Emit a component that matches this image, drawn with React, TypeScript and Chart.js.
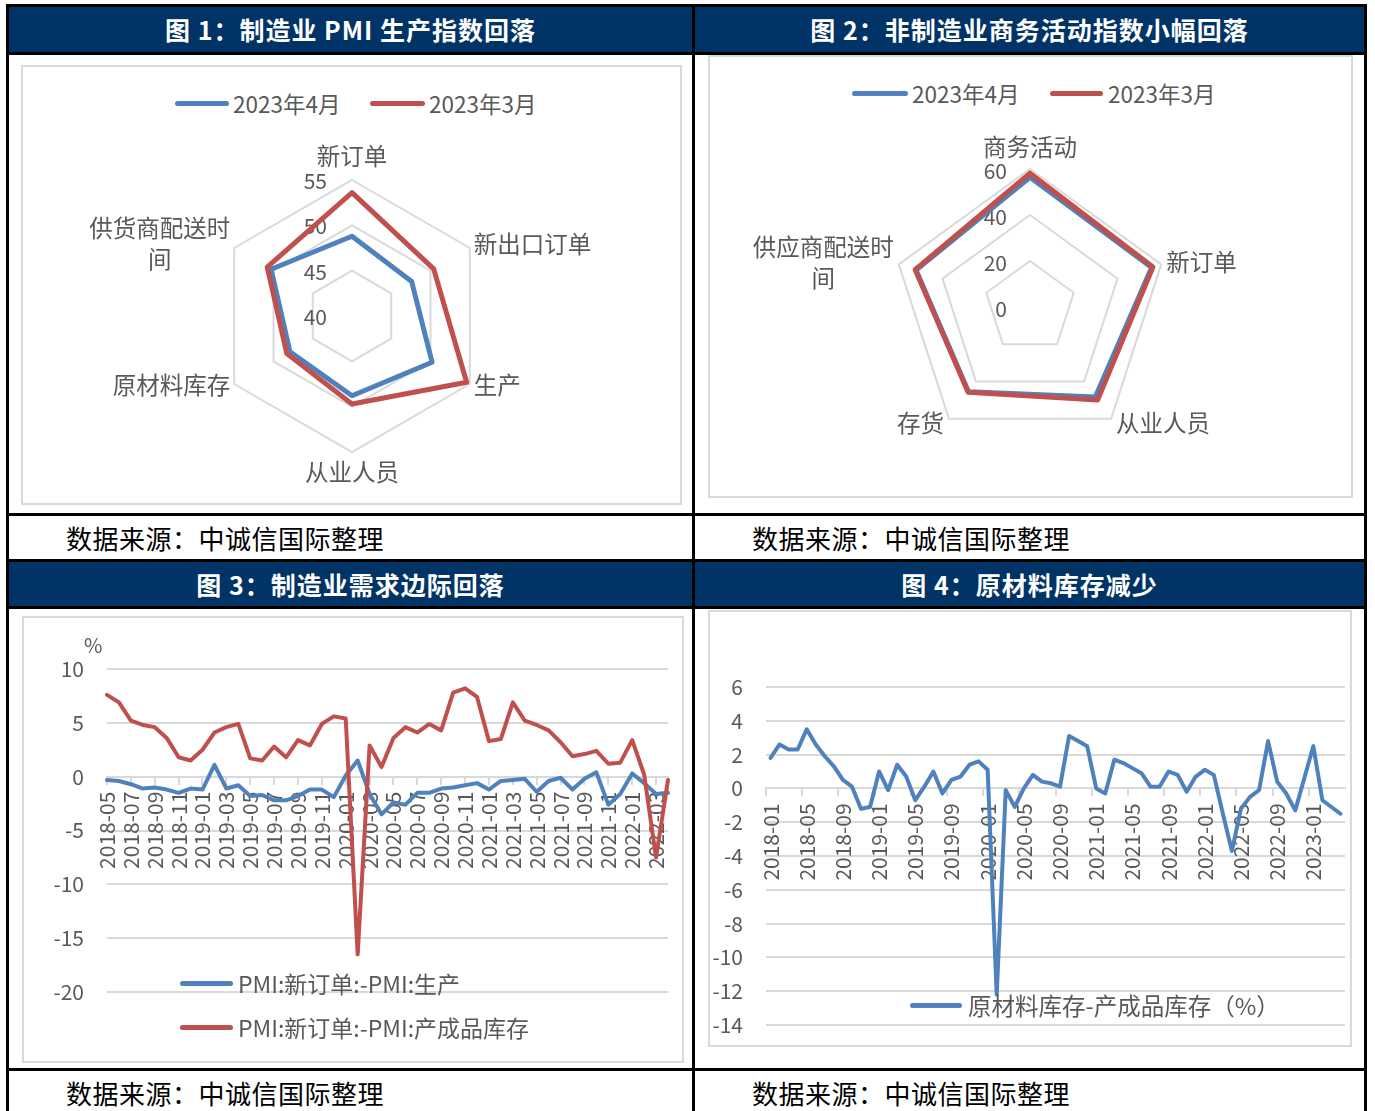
import React, { useEffect, useRef } from 'react';
import { Chart, registerables } from 'chart.js';

Chart.register(...registerables);

const FONT = '"Noto Sans CJK SC", "Noto Sans", sans-serif';
const TEXT = '#595959';
const GRID = '#d9d9d9';
const BLUE = '#4F81BD';
const RED = '#C0504D';
const NAVY = '#003366';

// 图1：制造业 PMI 分项
const mfgAxes = ['新订单', '新出口订单', '生产', '从业人员', '原材料库存', ['供货商配送时', '间']];
const mfgApr = [48.8, 47.6, 50.2, 48.8, 47.9, 50.3];
const mfgMar = [53.6, 50.4, 54.6, 49.7, 48.3, 50.8];
const mfgRange = [40, 55, 5];

// 图2：非制造业分项
const svcAxes = ['商务活动', '新订单', '从业人员', '存货', ['供应商配送时', '间']];
const svcApr = [56.4, 55.6, 48.3, 45.5, 52.1];
const svcMar = [58.2, 56.2, 50.0, 45.8, 52.5];
const svcRange = [0, 60, 20];

const seriesNames = ['2023年4月', '2023年3月'];

// 图3：新订单与生产、产成品库存之差
const demandMonths = [
  '2018-05', '2018-06', '2018-07', '2018-08', '2018-09', '2018-10', '2018-11', '2018-12',
  '2019-01', '2019-02', '2019-03', '2019-04', '2019-05', '2019-06', '2019-07', '2019-08', '2019-09', '2019-10', '2019-11', '2019-12',
  '2020-01', '2020-02', '2020-03', '2020-04', '2020-05', '2020-06', '2020-07', '2020-08', '2020-09', '2020-10', '2020-11', '2020-12',
  '2021-01', '2021-02', '2021-03', '2021-04', '2021-05', '2021-06', '2021-07', '2021-08', '2021-09', '2021-10', '2021-11', '2021-12',
  '2022-01', '2022-02', '2022-03', '2022-04',
];
const ordersMinusOutput = [
  -0.3, -0.4, -0.7, -1.1, -1.0, -1.2, -1.5, -1.1,
  -1.2, 1.1, -1.1, -0.8, -1.8, -1.7, -2.2, -2.2, -1.8, -1.2, -1.2, -1.9,
  0.1, 1.5, -1.6, -3.5, -2.4, -2.6, -1.5, -1.5, -1.1, -1.0, -0.8, -0.6,
  -1.2, -0.4, -0.3, -0.2, -1.4, -0.4, -0.1, -1.2, -0.2, 0.4, -2.6, -1.6,
  0.3, -0.6, -1.6, -1.5,
];
const ordersMinusFinished = [
  7.6, 6.9, 5.2, 4.8, 4.6, 3.6, 1.8, 1.5,
  2.5, 4.1, 4.6, 4.9, 1.7, 1.5, 2.8, 1.8, 3.4, 2.9, 4.9, 5.6,
  5.4, -16.5, 2.9, 0.9, 3.6, 4.6, 4.1, 4.9, 4.3, 7.8, 8.2, 7.4,
  3.3, 3.5, 6.9, 5.2, 4.8, 4.3, 3.2, 1.9, 2.1, 2.4, 1.2, 1.3,
  3.4, 0.2, -7.5, -0.3,
];
const demandNames = ['PMI:新订单:-PMI:生产', 'PMI:新订单:-PMI:产成品库存'];
const demandRange = [-20, 10, 5];

// 图4：原材料库存与产成品库存之差
const stockMonths = [
  '2018-01', '2018-02', '2018-03', '2018-04', '2018-05', '2018-06', '2018-07', '2018-08', '2018-09', '2018-10', '2018-11', '2018-12',
  '2019-01', '2019-02', '2019-03', '2019-04', '2019-05', '2019-06', '2019-07', '2019-08', '2019-09', '2019-10', '2019-11', '2019-12',
  '2020-01', '2020-02', '2020-03', '2020-04', '2020-05', '2020-06', '2020-07', '2020-08', '2020-09', '2020-10', '2020-11', '2020-12',
  '2021-01', '2021-02', '2021-03', '2021-04', '2021-05', '2021-06', '2021-07', '2021-08', '2021-09', '2021-10', '2021-11', '2021-12',
  '2022-01', '2022-02', '2022-03', '2022-04', '2022-05', '2022-06', '2022-07', '2022-08', '2022-09', '2022-10', '2022-11', '2022-12',
  '2023-01', '2023-02', '2023-03', '2023-04',
];
const rawMinusFinished = [
  1.8, 2.6, 2.3, 2.3, 3.5, 2.6, 1.9, 1.3, 0.5, 0.1, -1.2, -1.1,
  1.0, -0.1, 1.4, 0.7, -0.7, 0.1, 1.0, -0.3, 0.5, 0.7, 1.4, 1.6,
  1.1, -12.2, -0.1, -1.1, 0.0, 0.8, 0.4, 0.3, 0.1, 3.1, 2.8, 2.5,
  0.0, -0.3, 1.7, 1.5, 1.2, 0.9, 0.1, 0.1, 1.0, 0.8, -0.2, 0.7,
  1.1, 0.8, -1.5, -3.7, -1.2, -0.5, -0.1, 2.8, 0.4, -0.3, -1.3, 0.6,
  2.5, -0.7, -1.1, -1.5,
];
const stockName = '原材料库存-产成品库存（%）';
const stockRange = [-14, 6, 2];

const sourceText = '数据来源：中诚信国际整理';
const titles = [
  '图 1：制造业 PMI 生产指数回落',
  '图 2：非制造业商务活动指数小幅回落',
  '图 3：制造业需求边际回落',
  '图 4：原材料库存减少',
];

type RadarTextOpts = {
  size: number; lh: number; tickSize: number; tickDx: number; tickDy: number;
  top: number; bottom: number; side: number; upDy: number; lowDy: number;
};

// Axis names and ring values for the radar charts, placed from the scale geometry.
function radarText(o: RadarTextOpts) {
  return {
    id: 'radarText',
    beforeDatasetsDraw(chart: any) {
      const s = chart.scales.r;
      const ctx = chart.ctx as CanvasRenderingContext2D;
      ctx.save();
      ctx.fillStyle = TEXT;
      ctx.textBaseline = 'middle';
      ctx.font = `${o.tickSize}px ${FONT}`;
      ctx.textAlign = 'right';
      s.ticks.forEach((t: any) => {
        const d = s.getDistanceFromCenterForValue(t.value);
        ctx.fillText(String(t.value), s.xCenter - o.tickDx, s.yCenter - d + o.tickDy);
      });
      ctx.font = `${o.size}px ${FONT}`;
      ctx.textAlign = 'center';
      (chart.data.labels as any[]).forEach((lab, i) => {
        const lines: string[] = Array.isArray(lab) ? lab : [lab];
        const p = s.getPointPosition(i, s.drawingArea);
        const dx = p.x - s.xCenter;
        const dy = p.y - s.yCenter;
        const w = Math.max(...lines.map((l) => ctx.measureText(l).width));
        const h = lines.length * o.lh;
        let cx: number;
        let cy: number;
        if (Math.abs(dx) < 2) {
          cx = p.x;
          cy = dy < 0 ? p.y - o.top - h / 2 : p.y + o.bottom + h / 2;
        } else {
          cx = p.x + Math.sign(dx) * (o.side + w / 2);
          cy = p.y + (dy > 0 ? o.lowDy : o.upDy);
        }
        lines.forEach((l, k) => ctx.fillText(l, cx, cy - h / 2 + o.lh * (k + 0.5)));
      });
      ctx.restore();
    },
  };
}

function radarConfig(
  axes: any[], a: number[], b: number[], range: number[],
  pad: { left: number; right: number; top: number; bottom: number }, text: RadarTextOpts,
): any {
  return {
    type: 'radar',
    data: {
      labels: axes,
      datasets: [
        { label: seriesNames[0], data: a, borderColor: BLUE, backgroundColor: 'transparent', borderWidth: 5, pointRadius: 0, fill: false, order: 1 },
        { label: seriesNames[1], data: b, borderColor: RED, backgroundColor: 'transparent', borderWidth: 5, pointRadius: 0, fill: false, order: 0 },
      ],
    },
    options: {
      responsive: false,
      animation: false,
      devicePixelRatio: 1,
      layout: { padding: pad },
      plugins: { legend: { display: false }, tooltip: { enabled: false } },
      elements: { line: { tension: 0, borderJoinStyle: 'round' } },
      scales: {
        r: {
          min: range[0],
          max: range[1],
          ticks: { stepSize: range[2], display: false },
          pointLabels: { display: false },
          grid: { color: GRID, lineWidth: 2, circular: false },
          angleLines: { display: false },
        },
      },
    },
    plugins: [radarText(text)],
  };
}

function lineConfig(
  labels: string[], series: { data: number[]; color: string; name: string }[], range: number[],
  every: number, offset: boolean, yWidth: number,
  pad: { left: number; right: number; top: number; bottom: number },
): any {
  return {
    type: 'line',
    data: {
      labels,
      datasets: series.map((s, i) => ({
        label: s.name, data: s.data, borderColor: s.color, backgroundColor: s.color,
        borderWidth: 4, pointRadius: 0, fill: false, order: series.length - i,
      })),
    },
    options: {
      responsive: false,
      animation: false,
      devicePixelRatio: 1,
      layout: { padding: pad },
      plugins: { legend: { display: false }, tooltip: { enabled: false } },
      elements: { line: { tension: 0, borderCapStyle: 'round', borderJoinStyle: 'round' } },
      scales: {
        x: {
          type: 'category',
          position: { y: 0 },
          offset,
          grid: {
            drawOnChartArea: false,
            drawTicks: true,
            tickLength: 7,
            lineWidth: 2,
            offset,
            color: (c: any) => (typeof c.index === 'number' && c.index % every === 0 ? GRID : 'rgba(0,0,0,0)'),
          },
          border: { display: true, color: GRID, width: 2 },
          ticks: {
            autoSkip: false,
            minRotation: 90,
            maxRotation: 90,
            padding: 8,
            color: TEXT,
            font: { family: FONT, size: 21 },
            callback: (_v: any, i: number) => (i % every === 0 ? labels[i] : ''),
          },
          afterFit: (s: any) => { s.paddingLeft = 0; s.paddingRight = 0; },
        },
        y: {
          min: range[0],
          max: range[1],
          grid: { color: GRID, lineWidth: 2, drawTicks: false },
          border: { display: false },
          ticks: { stepSize: range[2], padding: 23, color: TEXT, font: { family: FONT, size: 21 } },
          afterFit: (s: any) => { s.width = yWidth; s.paddingTop = 0; s.paddingBottom = 0; },
        },
      },
    },
  };
}

function ChartCanvas({ x, y, w, h, make }: { x: number; y: number; w: number; h: number; make: () => any }) {
  const ref = useRef<HTMLCanvasElement>(null);
  useEffect(() => {
    const chart = new Chart(ref.current as HTMLCanvasElement, make());
    return () => chart.destroy();
  }, []);
  return (
    <canvas ref={ref} width={w} height={h}
      style={{ position: 'absolute', left: x, top: y, width: w, height: h }} />
  );
}

function Box({ x, y, w, h, bg }: { x: number; y: number; w: number; h: number; bg: string }) {
  return <div style={{ position: 'absolute', left: x, top: y, width: w, height: h, background: bg }} />;
}

function Frame({ x, y, w, h }: { x: number; y: number; w: number; h: number }) {
  return (
    <div style={{ position: 'absolute', left: x, top: y, width: w, height: h, border: `2px solid ${GRID}`, boxSizing: 'border-box' }} />
  );
}

function Txt({ x, y, size, children, color = TEXT, weight = 400, spacing = 0 }: any) {
  return (
    <div style={{
      position: 'absolute', left: x, top: y - size, height: size * 2, lineHeight: `${size * 2}px`,
      fontSize: size, color, fontFamily: FONT, fontWeight: weight, whiteSpace: 'nowrap', letterSpacing: spacing,
    }}>{children}</div>
  );
}

function Title({ x, y, w, h, text }: { x: number; y: number; w: number; h: number; text: string }) {
  return (
    <div style={{
      position: 'absolute', left: x, top: y, width: w, height: h, background: NAVY, color: '#fff',
      fontFamily: FONT, fontWeight: 700, fontSize: 25, letterSpacing: 1, lineHeight: `${h}px`,
      textAlign: 'center', whiteSpace: 'nowrap',
    }}>{text}</div>
  );
}

function LegendLine({ x1, x2, y, color }: { x1: number; x2: number; y: number; color: string }) {
  return (
    <div style={{ position: 'absolute', left: x1, top: y - 2.5, width: x2 - x1, height: 5, borderRadius: 3, background: color }} />
  );
}

export default function App() {
  return (
    <div style={{ position: 'absolute', left: 0, top: 0, width: 1375, height: 1111, background: '#fff', overflow: 'hidden' }}>
      <Title x={9} y={7} w={683} h={45} text={titles[0]} />
      <Title x={695} y={7} w={669} h={45} text={titles[1]} />
      <Title x={9} y={562} w={683} h={44} text={titles[2]} />
      <Title x={695} y={562} w={669} h={44} text={titles[3]} />

      {/* table rules */}
      <Box x={6} y={4} w={1361} h={3} bg="#000" />
      <Box x={6} y={52} w={1361} h={3} bg="#000" />
      <Box x={6} y={513} w={1361} h={3} bg="#000" />
      <Box x={6} y={559} w={1361} h={3} bg="#000" />
      <Box x={6} y={606} w={1361} h={3} bg="#000" />
      <Box x={6} y={1068} w={1361} h={3} bg="#000" />
      <Box x={6} y={4} w={3} h={1107} bg="#000" />
      <Box x={692} y={4} w={3} h={1107} bg="#000" />
      <Box x={1364} y={4} w={3} h={1107} bg="#000" />

      <Txt x={66} y={538} size={26} color="#000" spacing={0.5}>{sourceText}</Txt>
      <Txt x={752} y={538} size={26} color="#000" spacing={0.5}>{sourceText}</Txt>
      <Txt x={66} y={1093} size={26} color="#000" spacing={0.5}>{sourceText}</Txt>
      <Txt x={752} y={1093} size={26} color="#000" spacing={0.5}>{sourceText}</Txt>

      {/* 图1 */}
      <Frame x={21} y={65} w={661} h={440} />
      <LegendLine x1={175} x2={229} y={103} color={BLUE} />
      <Txt x={233} y={103} size={22.5}>{seriesNames[0]}</Txt>
      <LegendLine x1={370} x2={425} y={103} color={RED} />
      <Txt x={429} y={103} size={22.5}>{seriesNames[1]}</Txt>
      <ChartCanvas x={21} y={65} w={661} h={440}
        make={() => radarConfig(mfgAxes, mfgApr, mfgMar, mfgRange,
          { left: 195, right: 194, top: 115, bottom: 53 },
          { size: 23.5, lh: 31, tickSize: 21, tickDx: 25, tickDy: 1, top: 8.5, bottom: 4.5, side: 4, upDy: -4, lowDy: 1 })} />

      {/* 图2 */}
      <Frame x={708} y={55} w={645} h={443} />
      <LegendLine x1={852} x2={908} y={93} color={BLUE} />
      <Txt x={912} y={93} size={22.5}>{seriesNames[0]}</Txt>
      <LegendLine x1={1050} x2={1103} y={93} color={RED} />
      <Txt x={1108} y={93} size={22.5}>{seriesNames[1]}</Txt>
      <ChartCanvas x={708} y={55} w={645} h={443}
        make={() => radarConfig(svcAxes, svcApr, svcMar, svcRange,
          { left: 184, right: 185, top: 114, bottom: 53 },
          { size: 23.5, lh: 31, tickSize: 21, tickDx: 23, tickDy: 2, top: 6.5, bottom: 4.5, side: 5, upDy: -2, lowDy: 4 })} />

      {/* 图3 */}
      <Frame x={22} y={616} w={662} h={447} />
      <ChartCanvas x={22} y={616} w={662} h={447}
        make={() => lineConfig(demandMonths, [
          { data: ordersMinusOutput, color: BLUE, name: demandNames[0] },
          { data: ordersMinusFinished, color: RED, name: demandNames[1] },
        ], demandRange, 2, false, 85, { left: 0, right: 16, top: 53, bottom: 71 })} />
      <Txt x={84} y={645} size={20}>%</Txt>
      <LegendLine x1={180} x2={233} y={983} color={BLUE} />
      <Txt x={238} y={983} size={23}>{demandNames[0]}</Txt>
      <LegendLine x1={180} x2={233} y={1027} color={RED} />
      <Txt x={238} y={1027} size={23}>{demandNames[1]}</Txt>

      {/* 图4 */}
      <Frame x={708} y={610} w={644} h={437} />
      <ChartCanvas x={708} y={610} w={644} h={437}
        make={() => lineConfig(stockMonths, [
          { data: rawMinusFinished, color: BLUE, name: stockName },
        ], stockRange, 4, true, 58, { left: 0, right: 7, top: 77, bottom: 22 })} />
      <LegendLine x1={910} x2={962} y={1005} color={BLUE} />
      <Txt x={968} y={1005} size={23.5}>{stockName}</Txt>
    </div>
  );
}
